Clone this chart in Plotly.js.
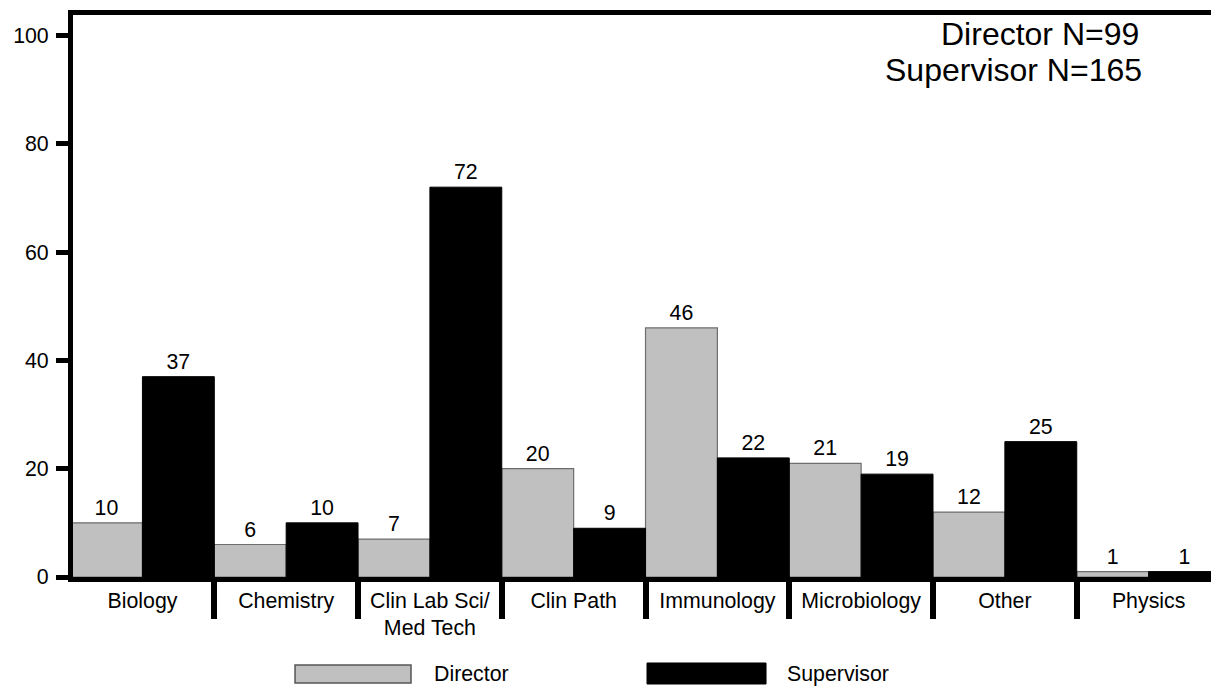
<!DOCTYPE html>
<html>
<head>
<meta charset="utf-8">
<script src="https://cdn.plot.ly/plotly-3.0.1.min.js"></script>
<style>
html,body{margin:0;padding:0;background:#fff;}
#chart{width:1211px;height:686px;}
</style>
</head>
<body>
<div id="chart"></div>
<script>
const categories = ["Biology", "Chemistry", "Clin Lab Sci/<br>Med Tech", "Clin Path", "Immunology", "Microbiology", "Other", "Physics"];
const directorName = "Director";
const supervisorName = "Supervisor";
const directorValues = [10, 6, 7, 20, 46, 21, 12, 1];
const supervisorValues = [37, 10, 72, 9, 22, 19, 25, 1];
const yTicks = [0, 20, 40, 60, 80, 100];
const noteLines = ["Director N=99", "Supervisor N=165"];

const FONT = "Liberation Sans, Arial, sans-serif";
const FS = 21.33;

const traces = [
  {
    type: "bar", name: directorName, x: categories, y: directorValues,
    marker: {color: "#c0c0c0", line: {color: "#6e6e6e", width: 1.2}},
    text: directorValues.map(String), textposition: "outside",
    textfont: {family: FONT, size: FS, color: "#000"}, cliponaxis: false,
    showlegend: false, hoverinfo: "x+y"
  },
  {
    type: "bar", name: supervisorName, x: categories, y: supervisorValues,
    marker: {color: "#000000", line: {color: "#000000", width: 1}},
    text: supervisorValues.map(String), textposition: "outside",
    textfont: {family: FONT, size: FS, color: "#000"}, cliponaxis: false,
    showlegend: false, hoverinfo: "x+y"
  }
];

const layout = {
  width: 1211, height: 686,
  margin: {l: 73, r: 0, t: 15, b: 109, pad: 0},
  paper_bgcolor: "#fff", plot_bgcolor: "#fff",
  font: {family: FONT, size: FS, color: "#000"},
  barmode: "group", bargap: 0, bargroupgap: 0,
  showlegend: false,
  xaxis: {
    type: "category",
    range: [-0.483, 7.434],
    showline: true, linecolor: "#000", linewidth: 5, mirror: true,
    showgrid: false, zeroline: false,
    ticks: "outside", tickson: "boundaries", ticklen: 37, tickwidth: 6, tickcolor: "#000",
    tickfont: {family: FONT, size: FS, color: "#000"},
    fixedrange: true
  },
  yaxis: {
    range: [0, 103.8],
    tickvals: yTicks, ticktext: yTicks.map(String),
    showline: true, linecolor: "#000", linewidth: 5, mirror: false,
    showgrid: false, zeroline: false,
    ticks: "outside", ticklen: 12, tickwidth: 5, tickcolor: "#000",
    ticklabelstandoff: 3,
    tickfont: {family: FONT, size: FS, color: "#000"},
    fixedrange: true
  },
  shapes: [
    {type: "rect", xref: "paper", yref: "paper", x0: 0.1951, x1: 0.2970, y0: -0.1886, y1: -0.1566,
     fillcolor: "#c0c0c0", line: {color: "#555", width: 1.5}},
    {type: "rect", xref: "paper", yref: "paper", x0: 0.5044, x1: 0.6090, y0: -0.1904, y1: -0.1530,
     fillcolor: "#000", line: {color: "#000", width: 1}}
  ],
  annotations: [
    {xref: "paper", yref: "paper", x: 0.3155, y: -0.1726, xanchor: "left", yanchor: "middle",
     text: directorName, showarrow: false, font: {family: FONT, size: FS, color: "#000"}},
    {xref: "paper", yref: "paper", x: 0.6257, y: -0.1726, xanchor: "left", yanchor: "middle",
     text: supervisorName, showarrow: false, font: {family: FONT, size: FS, color: "#000"}},
    {xref: "paper", yref: "paper", x: 0.9376, y: 0.9662, xanchor: "right", yanchor: "middle",
     text: noteLines[0], showarrow: false, borderpad: 0, font: {family: FONT, size: 32, color: "#000"}},
    {xref: "paper", yref: "paper", x: 0.9405, y: 0.9021, xanchor: "right", yanchor: "middle",
     text: noteLines[1], showarrow: false, borderpad: 0, font: {family: FONT, size: 32, color: "#000"}}
  ]
};

Plotly.newPlot("chart", traces, layout, {displayModeBar: false, staticPlot: true});
</script>
</body>
</html>
